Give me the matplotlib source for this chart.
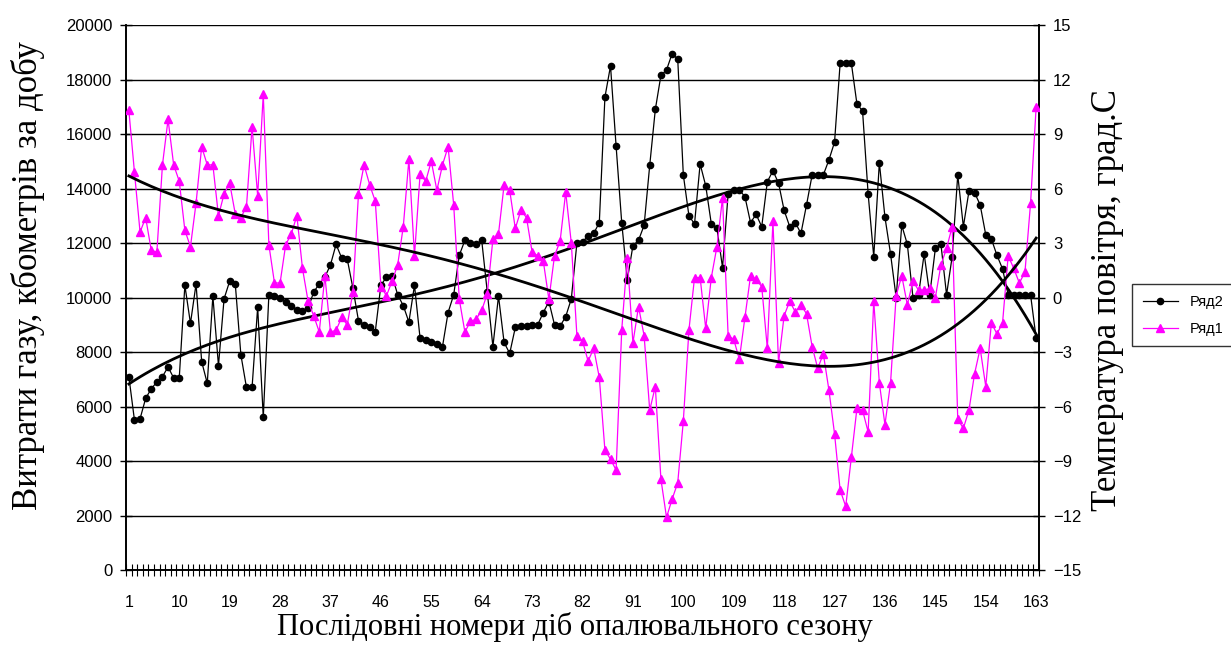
import numpy as np
import matplotlib
matplotlib.use("Agg")
import matplotlib.pyplot as plt

# дні опалювального сезону
days = np.arange(1, 164)

# Ряд2 - витрати газу, кбометрів за добу (ліва вісь)
gas = [
    7100, 5500, 5550, 6300, 6650, 6900, 7100, 7450, 7050, 7050,
    10450, 9050, 10500, 7650, 6850, 10050, 7500, 9950, 10600, 10500,
    7900, 6700, 6700, 9650, 5600, 10100, 10050, 10000, 9850, 9700,
    9550, 9500, 9600, 10200, 10500, 10750, 11200, 11950, 11450, 11400,
    10350, 9150, 9000, 8900, 8750, 10450, 10750, 10800, 10100, 9700,
    9100, 10450, 8500, 8450, 8350, 8300, 8200, 9450, 10100, 11550,
    12100, 12000, 11950, 12100, 10200, 8200, 10050, 8350, 7950, 8900,
    8950, 8950, 9000, 9000, 9450, 9850, 9000, 8950, 9300, 9950,
    12000, 12050, 12250, 12350, 12750, 17350, 18500, 15550, 12750, 10650,
    11900, 12100, 12650, 14850, 16900, 18150, 18350, 18950, 18750, 14500,
    13000, 12700, 14900, 14100, 12700, 12550, 11100, 13800, 13950, 13950,
    13700, 12750, 13050, 12600, 14250, 14650, 14200, 13200, 12600, 12750,
    12350, 13400, 14500, 14500, 14500, 15050, 15700, 18600, 18600, 18600,
    17100, 16850, 13800, 11500, 14950, 12950, 11600, 10000, 12650, 11950,
    10000, 10100, 11600, 10100, 11800, 11950, 10100, 11500, 14500, 12600,
    13900, 13850, 13400, 12300, 12150, 11550, 11050, 10100, 10100, 10100,
    10100, 10100, 8500,
]

# Ряд1 - температура повітря, град.С (права вісь)
temp = [
    10.3, 6.9, 3.6, 4.4, 2.6, 2.5, 7.3, 9.8, 7.3, 6.4,
    3.7, 2.8, 5.2, 8.3, 7.3, 7.3, 4.5, 5.7, 6.3, 4.6,
    4.4, 5.0, 9.4, 5.6, 11.2, 2.9, 0.8, 0.8, 2.9, 3.5,
    4.5, 1.6, -0.2, -1.0, -1.9, 1.2, -1.9, -1.8, -1.1, -1.5,
    0.3, 5.7, 7.3, 6.2, 5.3, 0.6, 0.1, 0.9, 1.8, 3.9,
    7.6, 2.3, 6.8, 6.4, 7.5, 5.9, 7.3, 8.3, 5.1, -0.1,
    -1.9, -1.3, -1.2, -0.7, 0.2, 3.2, 3.5, 6.2, 5.9, 3.8,
    4.8, 4.4, 2.5, 2.3, 2.0, -0.1, 2.3, 3.1, 5.8, 3.0,
    -2.1, -2.4, -3.5, -2.8, -4.4, -8.4, -8.9, -9.5, -1.8, 2.2,
    -2.5, -0.5, -2.1, -6.2, -4.9, -10.0, -12.1, -11.1, -10.2, -6.8,
    -1.8, 1.1, 1.1, -1.7, 1.1, 2.8, 5.5, -2.1, -2.3, -3.4,
    -1.1, 1.2, 1.0, 0.6, -2.8, 4.2, -3.6, -1.0, -0.2, -0.8,
    -0.4, -0.9, -2.7, -3.9, -3.1, -5.1, -7.5, -10.6, -11.5, -8.8,
    -6.1, -6.2, -7.4, -0.2, -4.7, -7.0, -4.7, 0.1, 1.2, -0.4,
    0.9, 0.4, 0.4, 0.5, 0.0, 1.8, 2.7, 3.9, -6.7, -7.2,
    -6.2, -4.2, -2.8, -4.9, -1.4, -2.0, -1.4, 2.3, 1.6, 0.8,
    1.4, 5.2, 10.5,
]

xlabels = [1, 10, 19, 28, 37, 46, 55, 64, 73, 82, 91, 100, 109, 118, 127, 136, 145, 154, 163]

plt.rcParams["font.family"] = ["Liberation Sans", "DejaVu Sans"]
serif = ["Liberation Serif", "DejaVu Serif"]

fig = plt.figure(figsize=(12.31, 6.46), dpi=100)
ax = fig.add_axes([0.1024, 0.1176, 0.7416, 0.8437])
ax2 = ax.twinx()

# поліноміальні тренди (4-го степеня)
gas_fit = np.polyval(np.polyfit(days, gas, 4), days)
temp_fit = np.polyval(np.polyfit(days, temp, 4), days)

ax.plot(days, gas, color="black", lw=0.9, marker="o", ms=4.5, zorder=3, label="Ряд2")
ax.plot(days, gas_fit, color="black", lw=2.0, zorder=4)

ax2.plot(days, temp, color="#FF00FF", lw=0.9, marker="^", ms=5.5, zorder=3, label="Ряд1")
ax2.plot(days, temp_fit, color="black", lw=2.0, zorder=4)

ax.set_xlim(0.5, 163.5)
ax.set_ylim(0, 20000)
ax2.set_ylim(-15, 15)
ax.set_yticks(np.arange(0, 20001, 2000))
ax2.set_yticks(np.arange(-15, 16, 3))
ax.yaxis.grid(True, color="black", lw=1.0)
ax.set_axisbelow(True)

ax.set_xticks(xlabels)
ax.set_xticks(np.arange(0.5, 164, 1), minor=True)
ax.tick_params(axis="x", which="major", length=0, pad=18, labelsize=11.5)
ax.tick_params(axis="x", which="minor", direction="inout", length=8, width=0.8)
ax.tick_params(axis="y", direction="inout", length=8, width=1, labelsize=12, pad=6)
ax2.tick_params(axis="y", direction="inout", length=8, width=1, labelsize=12, pad=6)

for a in (ax, ax2):
    a.spines["top"].set_visible(False)
    for s in ("left", "right", "bottom"):
        a.spines[s].set_linewidth(1.2)

fig.text(0.023, 0.574, "Витрати газу, кбометрів за добу", rotation=90,
         ha="center", va="center", fontsize=25, family=serif)
fig.text(0.900, 0.536, "Температура повітря, град.С", rotation=90,
         ha="center", va="center", fontsize=25, family=serif)
fig.text(0.467, 0.006, "Послідовні номери діб опалювального сезону",
         ha="center", va="bottom", fontsize=22, family=serif)

h1, l1 = ax.get_legend_handles_labels()
h2, l2 = ax2.get_legend_handles_labels()
fig.legend(h1 + h2, l1 + l2, loc="center left", bbox_to_anchor=(0.914, 0.512),
           fontsize=10.5, frameon=True, fancybox=False, edgecolor="black",
           handlelength=2.4, borderpad=0.7, labelspacing=0.9)

fig.savefig("out.png", dpi=100)
